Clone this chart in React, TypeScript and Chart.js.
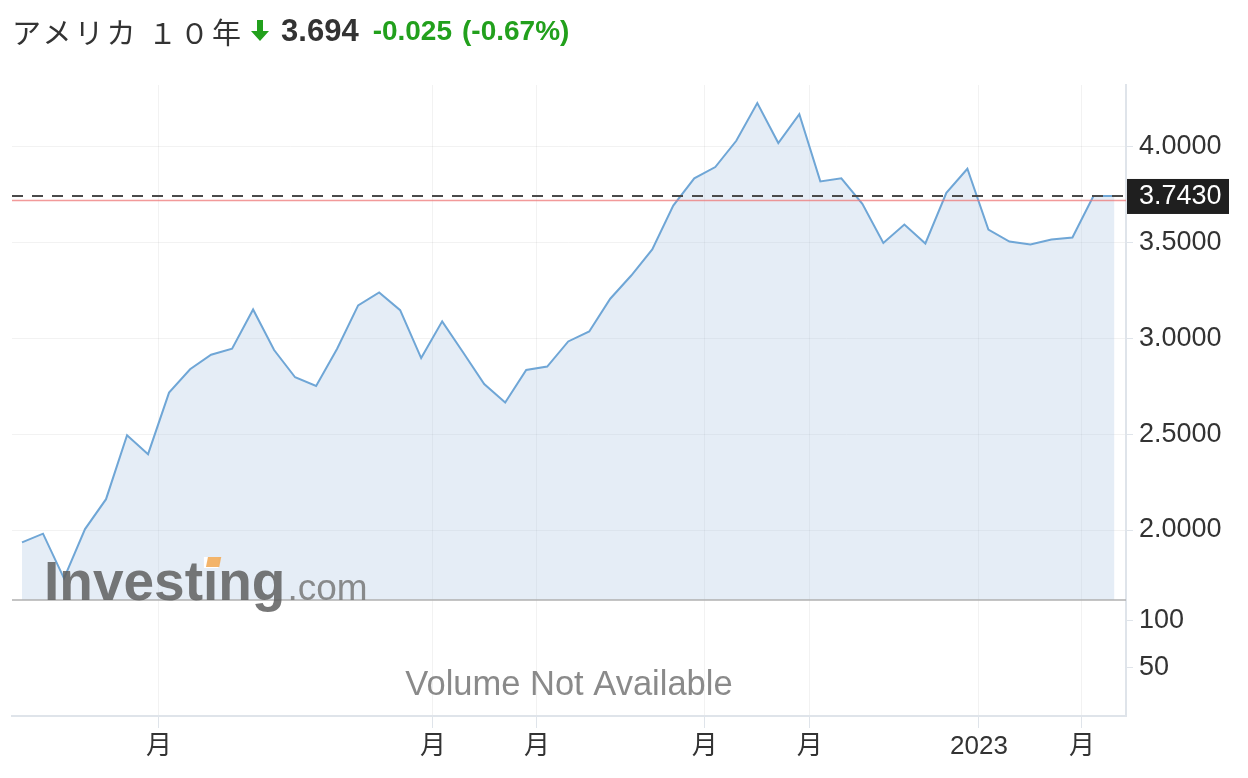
import React, { useEffect, useRef } from 'react';
import { Chart, registerables } from 'chart.js';

Chart.register(...registerables);

// ---- data ----
const titleText = 'アメリカ １０年';
const quoteText = '3.694';
const changeText = '-0.025';
const changePctText = '(-0.67%)';
const volumeMessage = 'Volume Not Available';
const watermarkMain = 'Investing';
const watermarkSuffix = '.com';

const yields = [
  1.936, 1.981, 1.748, 2.005, 2.161, 2.495, 2.396, 2.717, 2.839, 2.915,
  2.946, 3.151, 2.939, 2.797, 2.752, 2.946, 3.172, 3.240, 3.147, 2.897,
  3.089, 2.926, 2.762, 2.665, 2.835, 2.853, 2.984, 3.036, 3.207, 3.328,
  3.464, 3.693, 3.835, 3.894, 4.031, 4.228, 4.019, 4.170, 3.819, 3.835,
  3.702, 3.498, 3.594, 3.495, 3.759, 3.885, 3.568, 3.505, 3.490, 3.516,
  3.526, 3.743, 3.743,
];
const xTickPositions = [6.52, 19.56, 24.51, 32.5, 37.5, 45.55, 50.45];
const xTickLabels = ['月', '月', '月', '月', '月', '2023', '月'];
const priceTicks = [2.0, 2.5, 3.0, 3.5, 4.0];
const volumeTicks = [50, 100];
const lastPrice = 3.743;
const prevClose = 3.719;

const FONT = '"Liberation Sans", "Noto Sans CJK JP", Arial, sans-serif';

const overlay = {
  id: 'overlay',
  afterDraw(chart: any) {
    const { ctx, chartArea, scales } = chart;
    const y = scales.y;
    const y2 = scales.y2;
    ctx.save();

    // previous close (red)
    const yp = y.getPixelForValue(prevClose);
    ctx.strokeStyle = 'rgba(238,120,120,0.75)';
    ctx.lineWidth = 1.5;
    ctx.beginPath();
    ctx.moveTo(chartArea.left, yp);
    ctx.lineTo(chartArea.right, yp);
    ctx.stroke();

    // last price dashed
    const yl = y.getPixelForValue(lastPrice);
    ctx.setLineDash([11, 9]);
    ctx.strokeStyle = '#4a4a4a';
    ctx.lineWidth = 2;
    ctx.beginPath();
    ctx.moveTo(chartArea.left, yl);
    ctx.lineTo(chartArea.right, yl);
    ctx.stroke();
    ctx.setLineDash([]);

    // separator between panels
    ctx.strokeStyle = '#b0b0b0';
    ctx.lineWidth = 1.5;
    ctx.beginPath();
    ctx.moveTo(chartArea.left, y.bottom);
    ctx.lineTo(chartArea.right, y.bottom);
    ctx.stroke();

    // watermark
    const wx = chartArea.left + 32;
    const wy = y.bottom;
    ctx.font = `bold 55px ${FONT}`;
    ctx.textBaseline = 'alphabetic';
    ctx.textAlign = 'left';
    ctx.fillStyle = 'rgba(95,95,95,0.85)';
    ctx.fillText(watermarkMain, wx, wy);
    const mainW = ctx.measureText(watermarkMain).width;
    const iX = wx + ctx.measureText(watermarkMain.slice(0, 6)).width;
    const iW = ctx.measureText('i').width;
    ctx.fillStyle = '#ffffff';
    ctx.fillRect(iX + 1, wy - 43, iW - 1, 11);
    ctx.fillStyle = 'rgba(242,172,90,0.9)';
    ctx.beginPath();
    ctx.moveTo(iX + 3, wy - 33);
    ctx.lineTo(iX + iW + 1, wy - 33);
    ctx.lineTo(iX + iW + 3, wy - 43);
    ctx.lineTo(iX + 5, wy - 43);
    ctx.closePath();
    ctx.fill();
    ctx.font = `37px ${FONT}`;
    ctx.fillStyle = 'rgba(120,120,120,0.85)';
    ctx.fillText(watermarkSuffix, wx + mainW + 2, wy);

    // volume message
    ctx.font = `34.5px ${FONT}`;
    ctx.fillStyle = '#8a8a8a';
    ctx.textAlign = 'center';
    ctx.textBaseline = 'middle';
    ctx.fillText(volumeMessage, (chartArea.left + chartArea.right) / 2, y2.top + (y2.bottom - y2.top) * 0.74);

    // last price label
    ctx.fillStyle = '#1f1f1f';
    ctx.fillRect(chartArea.right + 1, yl - 17, 102, 35);
    ctx.fillStyle = '#ffffff';
    ctx.font = `27px ${FONT}`;
    ctx.textAlign = 'left';
    ctx.textBaseline = 'middle';
    ctx.fillText(lastPrice.toFixed(4), chartArea.right + 13, yl + 1);

    ctx.restore();
  },
};

function ChartView() {
  const ref = useRef<HTMLCanvasElement | null>(null);
  useEffect(() => {
    if (!ref.current) return;
    const gridColor = 'rgba(0,0,0,0.05)';
    const axisColor = '#dfe4ea';
    const chart = new Chart(ref.current, {
      type: 'line',
      data: {
        datasets: [
          {
            data: yields.map((v, i) => ({ x: i, y: v })),
            borderColor: '#6fa6d6',
            borderWidth: 2,
            backgroundColor: 'rgba(160,190,222,0.28)',
            fill: 'start',
            pointRadius: 0,
            tension: 0,
            xAxisID: 'x',
            yAxisID: 'y',
          },
        ],
      },
      options: {
        responsive: false,
        animation: false,
        layout: { padding: { left: 12, top: 85, right: 0, bottom: 0 } },
        plugins: { legend: { display: false }, tooltip: { enabled: false } },
        scales: {
          x: {
            type: 'linear',
            position: 'bottom',
            min: -0.476,
            max: 52.55,
            afterBuildTicks: (s: any) => {
              s.ticks = xTickPositions.map((v) => ({ value: v }));
            },
            afterFit: (s: any) => {
              s.height = 62;
            },
            grid: { color: gridColor, tickLength: 12, tickColor: axisColor },
            border: { color: axisColor, width: 2 },
            ticks: {
              autoSkip: false,
              maxRotation: 0,
              padding: 3,
              color: '#333',
              font: { family: FONT, size: 26 },
              callback: (_v: any, i: number) => xTickLabels[i],
            },
          },
          y: {
            type: 'linear',
            position: 'right',
            stack: 'panels',
            stackWeight: 515,
            min: 1.635,
            max: 4.322,
            afterBuildTicks: (s: any) => {
              s.ticks = priceTicks.map((v) => ({ value: v }));
            },
            afterFit: (s: any) => {
              s.width = 122;
            },
            grid: { color: gridColor, tickLength: 7, tickColor: axisColor },
            border: { color: axisColor, width: 2 },
            ticks: {
              padding: 6,
              color: '#333',
              font: { family: FONT, size: 27 },
              callback: (v: any) => Number(v).toFixed(4),
            },
          },
          y2: {
            type: 'linear',
            position: 'right',
            stack: 'panels',
            stackWeight: 116,
            min: -1.3,
            max: 122,
            afterBuildTicks: (s: any) => {
              s.ticks = volumeTicks.map((v) => ({ value: v }));
            },
            afterFit: (s: any) => {
              s.width = 122;
            },
            grid: { drawOnChartArea: false, tickLength: 7, tickColor: axisColor },
            border: { color: axisColor, width: 2 },
            ticks: {
              padding: 6,
              color: '#333',
              font: { family: FONT, size: 27 },
              callback: (v: any) => String(v),
            },
          },
        },
      } as any,
      plugins: [overlay],
    });
    return () => chart.destroy();
  }, []);
  return (
    <canvas
      ref={ref}
      width={1248}
      height={778}
      style={{ position: 'absolute', left: 0, top: 0, width: 1248, height: 778 }}
    />
  );
}

export default function App() {
  const green = '#22a01c';
  return (
    <div style={{ position: 'absolute', left: 0, top: 0, width: 1248, height: 778, background: '#fff' }}>
      <ChartView />
      <div
        style={{
          position: 'absolute',
          left: 12,
          top: 11,
          height: 40,
          display: 'flex',
          alignItems: 'center',
          whiteSpace: 'nowrap',
        }}
      >
        <span style={{ font: `400 29px "Noto Sans CJK JP", sans-serif`, letterSpacing: 3, color: '#333' }}>
          {titleText}
        </span>
        <svg width="20" height="22" viewBox="0 0 20 22" style={{ marginLeft: 6 }}>
          <polygon points="7,0 13,0 13,11 19,11 10,21 1,11 7,11" fill={green} />
        </svg>
        <span style={{ font: `bold 31px ${FONT}`, color: '#333', marginLeft: 11 }}>{quoteText}</span>
        <span style={{ font: `bold 28px ${FONT}`, color: green, marginLeft: 14 }}>{changeText}</span>
        <span style={{ font: `bold 28px ${FONT}`, color: green, marginLeft: 10 }}>{changePctText}</span>
      </div>
    </div>
  );
}
